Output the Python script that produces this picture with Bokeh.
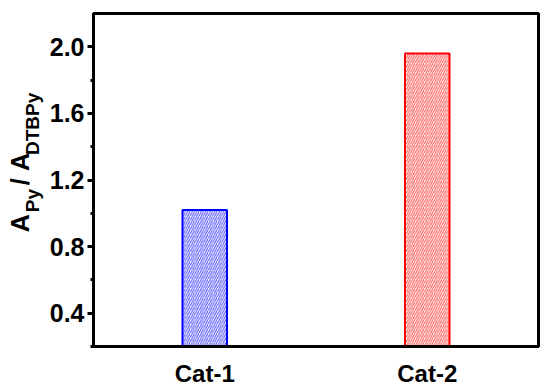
import math
from bokeh.plotting import figure
from bokeh.layouts import row
from bokeh.models import FactorRange, FixedTicker, Range1d, PrintfTickFormatter, Label
from bokeh.embed import file_html
from bokeh.resources import INLINE

# ---- data ----
categories = ["Cat-1", "Cat-2"]
ratio_values = [1.02, 1.96]
bar_colors = ["#0000FF", "#FF0000"]
y_major_ticks = [0.4, 0.8, 1.2, 1.6, 2.0]
y_minor_ticks = [0.2, 0.6, 1.0, 1.4, 1.8]
# y-axis title pieces: (text, is_subscript)
y_label_parts = [("A", False), ("Py", True), ("/", False), ("A", False), ("DTBPy", True)]

FONT = "Liberation Sans"
Y0, Y1 = 0.2, 2.2
LABEL_W = 46
TOTAL_W, TOTAL_H = 550, 389

p = figure(
    width=TOTAL_W - LABEL_W, height=TOTAL_H,
    x_range=FactorRange(*categories, range_padding=0),
    y_range=Range1d(Y0, Y1),
    output_backend="svg", toolbar_location=None,
    min_border_left=91 - LABEL_W, min_border_right=12, min_border_top=13, min_border_bottom=40,
)

p.vbar(x=categories, top=ratio_values, width=0.2, bottom=0,
       fill_color=None, line_color=bar_colors, line_width=2,
       hatch_pattern="/", hatch_color=bar_colors, hatch_alpha=0.65,
       hatch_scale=4.5, hatch_weight=1.1)

p.xgrid.visible = False
p.ygrid.visible = False
p.outline_line_color = "black"
p.outline_line_width = 3
p.outline_line_alpha = 1.0
p.background_fill_color = "white"
p.border_fill_color = "white"

for ax in (p.xaxis[0], p.yaxis[0]):
    ax.axis_line_width = 3
    ax.axis_line_color = "black"
    ax.major_label_text_font = FONT
    ax.major_label_text_font_style = "bold"
    ax.major_label_text_color = "black"

p.xaxis.major_tick_line_color = None
p.xaxis.minor_tick_line_color = None
p.xaxis.major_label_text_font_size = "24px"
p.xaxis.major_label_standoff = 7

p.yaxis.ticker = FixedTicker(ticks=y_major_ticks, minor_ticks=y_minor_ticks)
p.yaxis.formatter = PrintfTickFormatter(format="%.1f")
p.yaxis.major_label_text_font_size = "25px"
p.yaxis.major_tick_out = 6
p.yaxis.major_tick_in = 0
p.yaxis.major_tick_line_width = 3
p.yaxis.minor_tick_out = 3
p.yaxis.minor_tick_in = 0
p.yaxis.minor_tick_line_width = 3
p.yaxis.major_label_standoff = 3

# ---- y axis title (with subscripts) in a narrow side panel ----
lab = figure(
    width=LABEL_W, height=TOTAL_H,
    x_range=Range1d(0, LABEL_W), y_range=Range1d(0, TOTAL_H),
    x_axis_type=None, y_axis_type=None,
    output_backend="svg", toolbar_location=None,
    min_border_left=0, min_border_right=0, min_border_top=0, min_border_bottom=0,
)
lab.outline_line_color = None
lab.xgrid.visible = False
lab.ygrid.visible = False
lab.background_fill_color = "white"
lab.border_fill_color = "white"

# piece centres on the page (px from top / left) -- layout only
piece_centre_y = [245, 218.5, 196.5, 173.5, 129]
main_size, sub_size = 25, 19
main_cx, sub_cx = 19.5, 32
for (txt, is_sub), cy in zip(y_label_parts, piece_centre_y):
    lab.add_layout(Label(
        x=sub_cx if is_sub else main_cx, y=TOTAL_H - cy, text=txt,
        angle=math.pi / 2, angle_units="rad",
        text_font=FONT, text_font_style="bold",
        text_font_size=f"{sub_size if is_sub else main_size}px", text_color="black",
        text_align="center", text_baseline="middle"))

layout = row(lab, p, spacing=0)
open("out.html", "w").write(file_html(layout, INLINE))
